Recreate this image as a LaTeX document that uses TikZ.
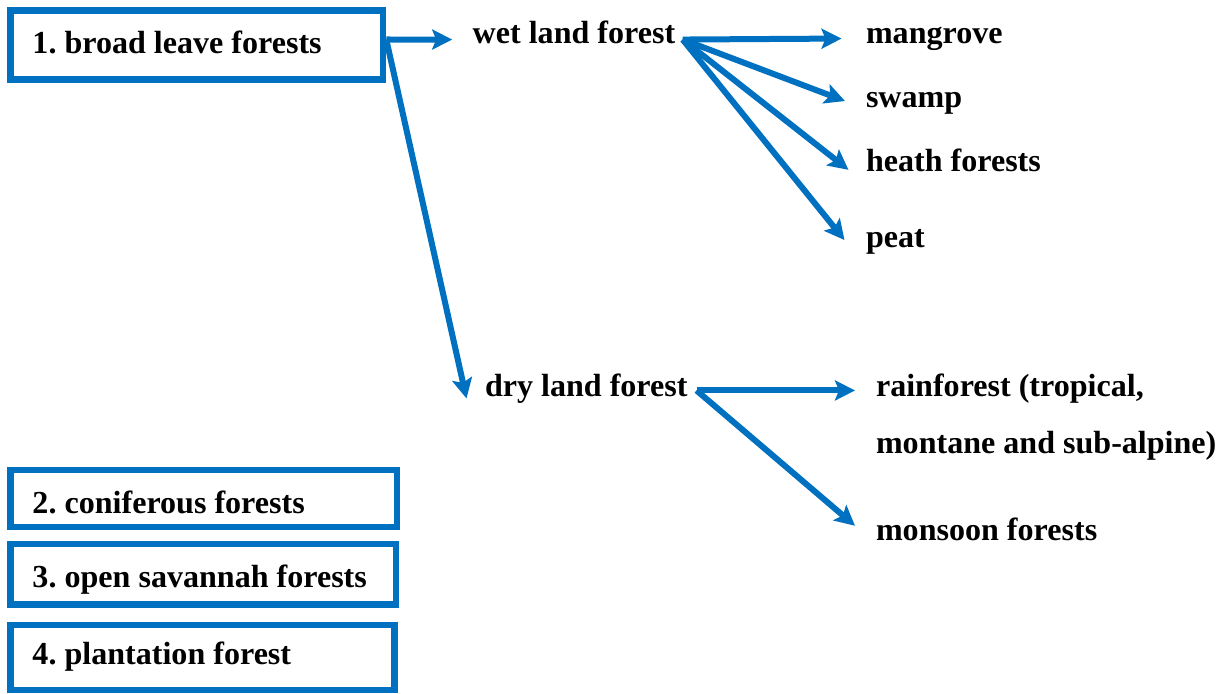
\documentclass[tikz,border=0pt]{standalone}
\usepackage{fontspec}
\setmainfont{Liberation Serif}
\usetikzlibrary{arrows.meta, positioning}
\definecolor{forestblue}{HTML}{0070C0}
\frenchspacing

\begin{document}
\begin{tikzpicture}[
  every node/.style={font=\fontsize{18.25}{22}\selectfont\bfseries},
  >={Stealth[length=0.4cm, width=0.4cm, inset=0.08cm]},
  arrow/.style={->, draw=forestblue, line width=0.12cm},
  leaf/.style={inner sep=0pt, outer sep=0pt, text height=0.35cm, text depth=0.1cm},
  catbox/.style n args={3}{draw=forestblue, line width=0.13cm, inner xsep=0.44cm,
    inner ysep=0pt, align=flush left, text width=#1, minimum height=#2,
    text height=#3, text depth=0pt}
]
\useasboundingbox (0,0) rectangle (24.46,-13.86);

% Forest types
\node [catbox={6.57cm}{1.38cm}{0.33cm}] (broad) at (3.935,-0.90) {1. broad leave forests};
\node [catbox={6.85cm}{1.14cm}{0.59cm}] (conif) at (4.075,-9.97) {2. coniferous forests};
\node [catbox={6.83cm}{1.21cm}{0.54cm}] (savan) at (4.065,-11.485) {3. open savannah forests};
\node [catbox={6.80cm}{1.30cm}{0.26cm}] (plant) at (4.05,-13.15) {4. plantation forest};

% Wet land branch
\node [leaf, anchor=base west] (wet) at (9.454,-0.866) {wet land forest};
\node [leaf, right=7.866cm of wet.base west, anchor=base west] (mangrove) {mangrove};
\node [leaf, below=1.28cm of mangrove.base west, anchor=base west] (swamp) {swamp};
\node [leaf, below=2.566cm of mangrove.base west, anchor=base west] (heath) {heath forests};
\node [leaf, below=4.08cm of mangrove.base west, anchor=base west] (peat) {peat};

% Dry land branch
\node [leaf, anchor=base west] (dry) at (9.70,-7.934) {dry land forest};
\node [leaf, right=7.82cm of dry.base west, anchor=base west] (rain) {rainforest (tropical,};
\node [leaf, below=1.132cm of rain.base west, anchor=base west] (montane) {montane and sub-alpine)};
\node [leaf, below=2.866cm of rain.base west, anchor=base west] (monsoon) {monsoon forests};

\draw[arrow] ([yshift=0.11cm]broad.east) -- ([xshift=-0.41cm,yshift=-0.05cm]wet.west);
\draw[arrow] ([yshift=0.11cm]broad.east) -- ([xshift=-0.37cm,yshift=-0.16cm]dry.west);

\draw[arrow] ([xshift=0.15cm,yshift=-0.05cm]wet.east) -- ([xshift=-0.49cm,yshift=-0.03cm]mangrove.west);
\draw[arrow] ([xshift=0.15cm,yshift=-0.05cm]wet.east) -- ([xshift=-0.42cm]swamp.west);
\draw[arrow] ([xshift=0.15cm,yshift=-0.05cm]wet.east) -- ([xshift=-0.35cm,yshift=-0.09cm]heath.west);
\draw[arrow] ([xshift=0.15cm,yshift=-0.05cm]wet.east) -- ([xshift=-0.43cm,yshift=0.02cm]peat.west);

\draw[arrow] ([xshift=0.18cm]dry.east) -- ([xshift=-0.42cm]rain.west);
\draw[arrow] ([xshift=0.18cm]dry.east) -- ([xshift=-0.42cm,yshift=0.16cm]monsoon.west);
\end{tikzpicture}
\end{document}
